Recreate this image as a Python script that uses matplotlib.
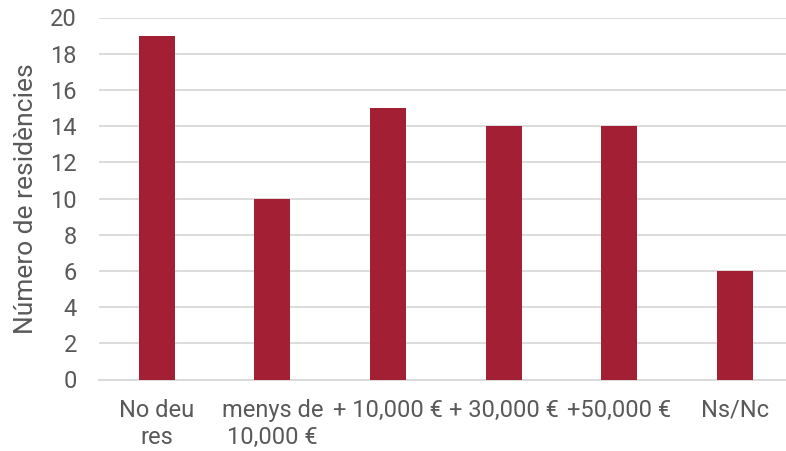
import matplotlib
matplotlib.use('Agg')
import matplotlib.pyplot as plt

# dades
categories = ["No deu\nres", "menys de\n10,000 €", "+ 10,000 €", "+ 30,000 €", "+50,000 €", "Ns/Nc"]
values = [19, 10, 15, 14, 14, 6]
yticks = [0, 2, 4, 6, 8, 10, 12, 14, 16, 18, 20]

plt.rcParams['font.family'] = ['Roboto', 'DejaVu Sans']
text_color = '#595959'

fig = plt.figure(figsize=(7.86, 4.51), dpi=100)
ax = fig.add_axes([99 / 786, 71.5 / 451, 693.6 / 786, 362 / 451])

x = range(len(categories))
ax.bar(x, values, width=0.31, color='#A31F34', zorder=3)

ax.set_xlim(-0.5, len(categories) - 0.5)
ax.set_ylim(0, 20)
ax.set_yticks(yticks)
ax.set_xticks(list(x))
ax.set_xticklabels(categories, linespacing=1.2)
ax.yaxis.grid(True, color='#d9d9d9', linewidth=1.3, zorder=0)
ax.set_axisbelow(True)

for s in ['top', 'right', 'left']:
    ax.spines[s].set_visible(False)
ax.spines['bottom'].set_color('#d9d9d9')
ax.spines['bottom'].set_linewidth(1.3)

ax.tick_params(axis='both', length=0, labelsize=17, labelcolor=text_color)
ax.tick_params(axis='y', pad=16)
ax.tick_params(axis='x', pad=14)
ax.set_ylabel("Número de residències", fontsize=19, color=text_color, labelpad=9)

fig.savefig("out.png", dpi=100)
plt.close()
